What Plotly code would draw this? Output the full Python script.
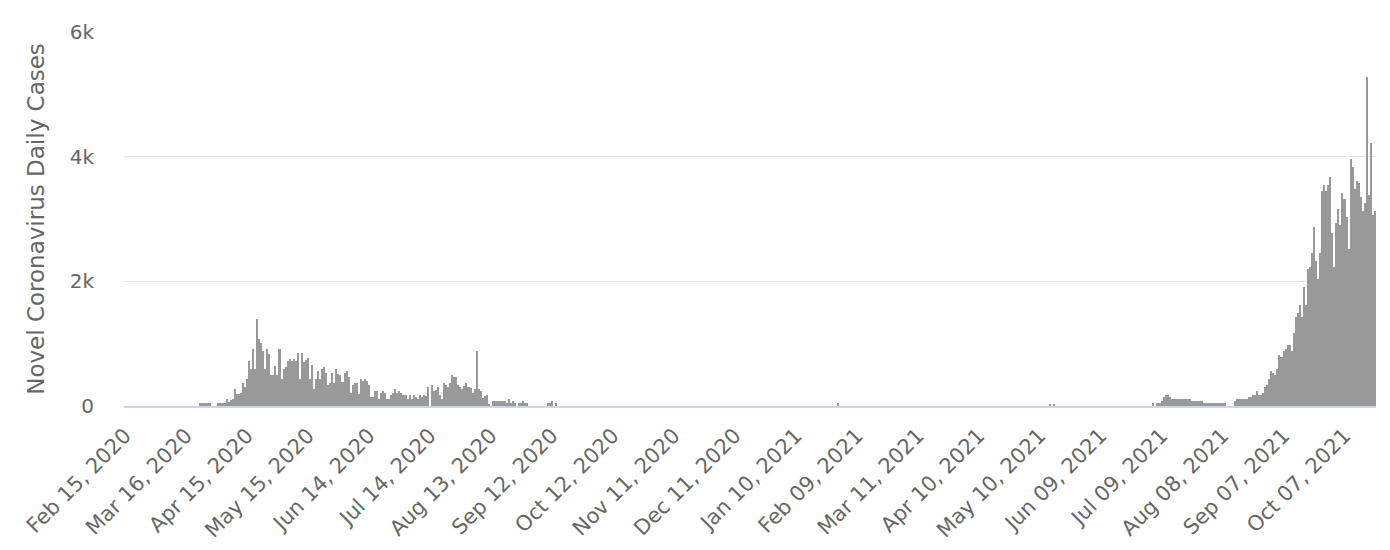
import pandas as pd
import plotly.graph_objects as go

# Category axis: one category per day, first label "Feb 15, 2020"
start_date = "2020-02-15"
n_days = 626
categories = [d.strftime("%b %d, %Y") for d in pd.date_range(start_date, periods=n_days, freq="D")]

# Daily cases (index 0 = Feb 15, 2020)
cases_2020_a = [
    0, 0, 0, 0, 0, 0, 0, 0, 0, 0,
    0, 0, 0, 0, 0, 0, 0, 0, 0, 0,
    0, 0, 0, 0, 0, 0, 0, 0, 0, 0,
    0, 0, 0, 0, 0, 0, 0, 48, 48, 48,
    48, 48, 48, 0, 0, 0, 48, 48, 48, 48,
    112, 64, 96, 112, 273, 187, 187, 209, 369, 305,
    434, 723, 594, 915, 594, 1397, 1076, 1012, 883, 594,
    915, 830, 498, 498, 648, 498, 915, 434, 594, 626,
    723, 755, 723, 755, 723, 851, 434, 851, 700, 740,
    770, 434, 658, 273, 434, 562, 434, 594, 620, 530,
]
cases_2020_b = [
    340, 369, 530, 369, 594, 508, 498, 390, 530, 562,
    466, 215, 337, 369, 369, 190, 434, 401, 434, 401,
    337, 145, 140, 241, 241, 120, 209, 241, 209, 112,
    112, 177, 209, 273, 209, 241, 209, 177, 177, 112,
    177, 112, 177, 145, 112, 177, 145, 177, 160, 305,
    0, 337, 241, 257, 305, 177, 112, 369, 337, 305,
    369, 498, 466, 466, 337, 305, 273, 320, 369, 305,
    294, 209, 273, 883, 273, 241, 123, 160, 177, 40,
    0, 80, 80, 80, 80, 80, 80, 80, 48, 112,
    48, 80, 48, 0, 48, 48, 80, 48, 48, 0,
]
cases_2020_c = [
    0, 0, 0, 0, 0, 0, 0, 0, 48, 48,
    80, 0, 48, 0, 0, 0, 0, 0, 0, 0,
    0, 0, 0, 0, 0, 0, 0, 0, 0, 0,
    0, 0, 0, 0, 0, 0, 0, 0, 0, 0,
    0, 0, 0, 0, 0, 0, 0, 0, 0, 0,
    0, 0, 0, 0, 0, 0, 0, 0, 0, 0,
    0, 0, 0, 0, 0, 0, 0, 0, 0, 0,
    0, 0, 0, 0, 0, 0, 0, 0, 0, 0,
    0, 0, 0, 0, 0, 0, 0, 0, 0, 0,
    0, 0, 0, 0, 0, 0, 0, 0, 0, 0,
]
cases_2021_a = [
    0, 0, 0, 0, 0, 0, 0, 0, 0, 0,
    0, 0, 0, 0, 0, 0, 0, 0, 0, 0,
    0, 0, 0, 0, 0, 0, 0, 0, 0, 0,
    0, 0, 0, 0, 0, 0, 0, 0, 0, 0,
    0, 0, 0, 0, 0, 0, 0, 0, 0, 0,
    0, 50, 0, 0, 0, 0, 0, 0, 0, 0,
    0, 0, 0, 0, 0, 0, 0, 0, 0, 0,
    0, 0, 0, 0, 0, 0, 0, 0, 0, 0,
    0, 0, 0, 0, 0, 0, 0, 0, 0, 0,
    0, 0, 0, 0, 0, 0, 0, 0, 0, 0,
]
cases_2021_b = [
    0, 0, 0, 0, 0, 0, 0, 0, 0, 0,
    0, 0, 0, 0, 0, 0, 0, 0, 0, 0,
    0, 0, 0, 0, 0, 0, 0, 0, 0, 0,
    0, 0, 0, 0, 0, 0, 0, 0, 0, 0,
    0, 0, 0, 0, 0, 0, 0, 0, 0, 0,
    0, 0, 0, 0, 0, 40, 0, 40, 0, 0,
    0, 0, 0, 0, 0, 0, 0, 0, 0, 0,
    0, 0, 0, 0, 0, 0, 0, 0, 0, 0,
    0, 0, 0, 0, 0, 0, 0, 0, 0, 0,
    0, 0, 0, 0, 0, 0, 0, 0, 0, 0,
]
cases_2021_c = [
    0, 0, 0, 0, 0, 0, 48, 0, 48, 48,
    80, 145, 177, 177, 145, 112, 112, 112, 112, 112,
    112, 112, 112, 112, 112, 80, 80, 80, 80, 80,
    80, 48, 48, 48, 48, 48, 48, 48, 48, 48,
    48, 48, 0, 0, 0, 0, 80, 112, 112, 112,
    112, 112, 112, 145, 145, 177, 177, 241, 177, 177,
    209, 305, 337, 434, 562, 530, 498, 594, 819, 787,
    883, 915, 979, 979, 883, 1172, 1429, 1493, 1622, 1429,
    1911, 1622, 2200, 2232, 2457, 2875, 2329, 2040, 2457, 3453,
    3549, 3453, 3549, 3677, 2778, 2232, 2939, 3164, 2907, 3421,
    3324, 3035, 2521, 3967, 3838, 3485, 3613, 3581, 3356, 3132,
    3260, 5284, 3389, 4224, 3067, 3132,
]
daily_cases = cases_2020_a + cases_2020_b + cases_2020_c + cases_2021_a + cases_2021_b + cases_2021_c

tick_step = 30
tick_labels = categories[::tick_step]

y_tick_values = [0, 2000, 4000, 6000]
y_tick_labels = ["0", "2k", "4k", "6k"]

font_family = "DejaVu Sans"
label_color = "#666666"

fig = go.Figure(
    go.Bar(
        x=categories,
        y=daily_cases,
        marker=dict(color="#999999", line=dict(width=0)),
        name="Daily Cases",
    )
)

# The page body adds an 8px margin, so the figure is 1382x542 to fit the window
fig.update_layout(
    width=1382,
    height=542,
    margin=dict(l=116, r=14, t=24, b=144),
    paper_bgcolor="white",
    plot_bgcolor="white",
    bargap=0,
    showlegend=False,
    font=dict(family=font_family, color=label_color),
)

fig.update_xaxes(
    type="category",
    tickmode="array",
    tickvals=tick_labels,
    ticktext=tick_labels,
    tickangle=-45,
    tickfont=dict(size=21, color=label_color, family=font_family),
    showgrid=False,
    showline=True,
    linecolor="#ccd6eb",
    linewidth=2,
    ticks="",
    ticklabelstandoff=7,
    automargin=False,
)

fig.update_yaxes(
    range=[0, 6000],
    tickmode="array",
    tickvals=y_tick_values,
    ticktext=y_tick_labels,
    tickfont=dict(size=20, color=label_color, family=font_family),
    showgrid=True,
    gridcolor="#e6e6e6",
    gridwidth=1,
    zeroline=False,
    showline=False,
    ticks="",
    ticklabelstandoff=29,
    automargin=False,
    title=dict(
        text="Novel Coronavirus Daily Cases",
        font=dict(size=23, color=label_color, family=font_family),
        standoff=18,
    ),
)

fig.write_html("out.html")
